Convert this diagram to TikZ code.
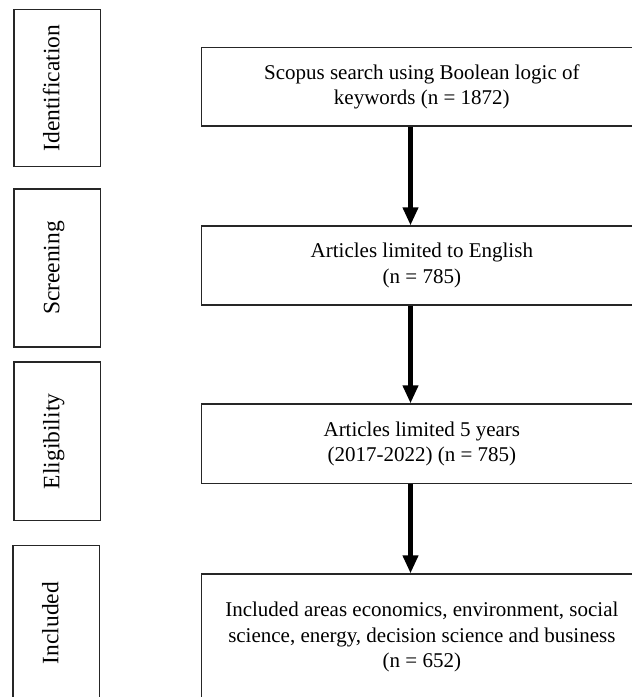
\documentclass[tikz,border=0pt]{standalone}
\usepackage{fontspec}
\setmainfont{Liberation Serif}
\usetikzlibrary{arrows.meta}
\begin{document}
\begin{tikzpicture}[x=1pt,y=-1pt,
  mainbox/.style={draw=black!85, line width=1.1pt, minimum width=440.3pt, align=center,
    font=\fontsize{21}{25.3}\selectfont, inner sep=0pt},
  labbox/.style={draw=black!85, line width=1.1pt, rotate=90, inner sep=0pt,
    minimum height=86.7pt, font=\fontsize{23.5}{28}\selectfont,
    text height=0.72em, text depth=0.3em},
  flow/.style={line width=4.5pt, -{Triangle[width=14.7pt,length=18pt]}}]
\useasboundingbox (0,0) rectangle (632,697);
% phase labels
\node[labbox, minimum width=157.4pt] (lid) at (57.35,88) {Identification};
\node[labbox, minimum width=158pt] (lsc) at (57.35,268) {Screening};
\node[labbox, minimum width=158.7pt] (lel) at (57.35,441.35) {Eligibility};
\node[labbox, minimum width=155pt] (lin) at (56.3,623) {Included};
% main boxes
\node[mainbox, minimum height=78.7pt] (b1) at (421.85,86.65) {Scopus search using Boolean logic of\\keywords (n = 1872)};
\node[mainbox, minimum height=79pt] (b2) at (421.85,265.5) {Articles limited to English\\(n = 785)};
\node[mainbox, minimum height=79.3pt] (b3) at (421.85,443.65) {Articles limited 5 years\\(2017-2022) (n = 785)};
\node[mainbox, minimum height=126pt] (b4) at (421.85,637) {Included areas economics, environment, social\\science, energy, decision science and business\\(n = 652)};
% arrows
\coordinate (ax) at (410.5,0);
\draw[flow] (b1.south -| ax) -- (b2.north -| ax);
\draw[flow] (b2.south -| ax) -- (b3.north -| ax);
\draw[flow] (b3.south -| ax) -- (b4.north -| ax);
\end{tikzpicture}
\end{document}
